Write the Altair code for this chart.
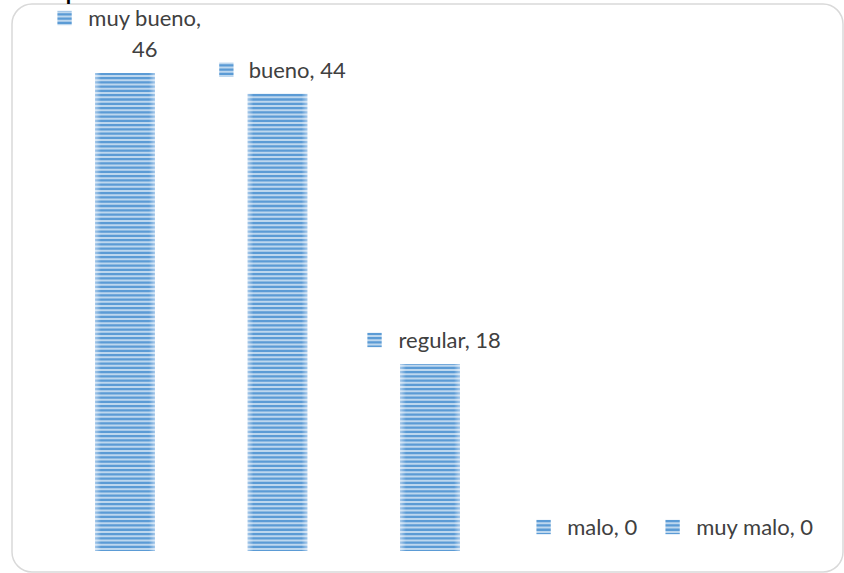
import altair as alt
import pandas as pd

# Survey answers and their counts
categorias = ["muy bueno", "bueno", "regular", "malo", "muy malo"]
valores = [46, 44, 18, 0, 0]

df = pd.DataFrame({
    "categoria": categorias,
    "valor": valores,
    "orden": list(range(len(categorias))),
})
titulo = pd.DataFrame({"texto": ["p"]})

PX_POR_UNIDAD = 519.5 / 50   # vertical pixels per count
PASO_X = 155                 # pixels between category centres
FUENTE = "Lato"
TAM = 22

x_scale = alt.Scale(domain=[0, 4], range=[108, 728], zero=False, nice=False)
y_scale = alt.Scale(domain=[0, 50], range=[547, 27.5], zero=False, nice=False)

relleno = alt.LinearGradient(
    gradient="linear", x1=0, x2=1, y1=0, y2=0,
    stops=[
        alt.GradientStop(offset=0, color="#a7c9ea"),
        alt.GradientStop(offset=0.1, color="#5b9bd5"),
        alt.GradientStop(offset=0.9, color="#5b9bd5"),
        alt.GradientStop(offset=1, color="#a7c9ea"),
    ],
)

barras = alt.Chart(df).mark_bar(width=60, color=relleno).encode(
    x=alt.X("orden:Q", scale=x_scale, axis=None),
    y=alt.Y("valor:Q", scale=y_scale, axis=None),
)

# data labels: legend key + "categoria, valor" (long ones wrap onto two lines)
base_etiquetas = alt.Chart(df).transform_calculate(
    etiqueta="datum.categoria + ', ' + datum.valor",
    partido="length(datum.etiqueta) > 12",
    linea1="datum.partido ? datum.categoria + ',' : datum.etiqueta",
    texto="datum.partido ? datum.categoria + ',\\n' + datum.valor : datum.etiqueta",
    ancho=(
        f"{TAM} * (0.55 * length(datum.linea1)"
        " + 0.31 * length(replace(datum.linea1, regexp('[^m]', 'g'), ''))"
        " - 0.34 * length(replace(datum.linea1, regexp('[^, l]', 'g'), ''))"
        " - 0.18 * length(replace(datum.linea1, regexp('[^r]', 'g'), '')))"
    ),
    xt=f"datum.orden + 20 / {PASO_X}",
    xk=f"datum.orden + (20 - datum.ancho / 2 - 25) / {PASO_X}",
    yt=f"datum.valor + (16 + (datum.partido ? 31 : 0)) / {PX_POR_UNIDAD}",
    yk=f"datum.yt + 8 / {PX_POR_UNIDAD}",
)

claves = base_etiquetas.mark_square(size=205, filled=True, color="#5b9bd5", opacity=1).encode(
    x=alt.X("xk:Q", scale=x_scale, axis=None),
    y=alt.Y("yk:Q", scale=y_scale, axis=None),
)

# fine horizontal striping over the blue fills
rayas = alt.Chart(alt.sequence(0.2, 52, 0.41, as_="s")).mark_rule(
    color="white", strokeWidth=2, opacity=0.6
).encode(
    y=alt.Y("s:Q", scale=y_scale, axis=None),
    x=alt.value(30),
    x2=alt.value(806),
)

textos = base_etiquetas.mark_text(
    align="center", baseline="alphabetic", font=FUENTE, fontSize=TAM,
    color="#404040", lineBreak="\n", lineHeight=31,
).encode(
    x=alt.X("xt:Q", scale=x_scale, axis=None),
    y=alt.Y("yt:Q", scale=y_scale, axis=None),
    text="texto:N",
)

cabecera = alt.Chart(titulo).mark_text(
    align="left", baseline="alphabetic", font=FUENTE, fontSize=TAM,
    fontWeight="bold", color="#000000",
).encode(
    x=alt.value(53.8),
    y=alt.value(-4.5),
    text="texto:N",
)

chart = alt.layer(barras, claves, rayas, textos, cabecera).properties(
    width=831,
    height=568,
    padding={"left": 12, "top": 4, "right": 1, "bottom": 1},
    autosize=alt.AutoSizeParams(type="none"),
    background="white",
).configure_view(
    stroke="#d9d9d9",
    strokeWidth=1.5,
    cornerRadius=20,
)

chart.save("out.html", embed_options={"renderer": "svg", "actions": False})
